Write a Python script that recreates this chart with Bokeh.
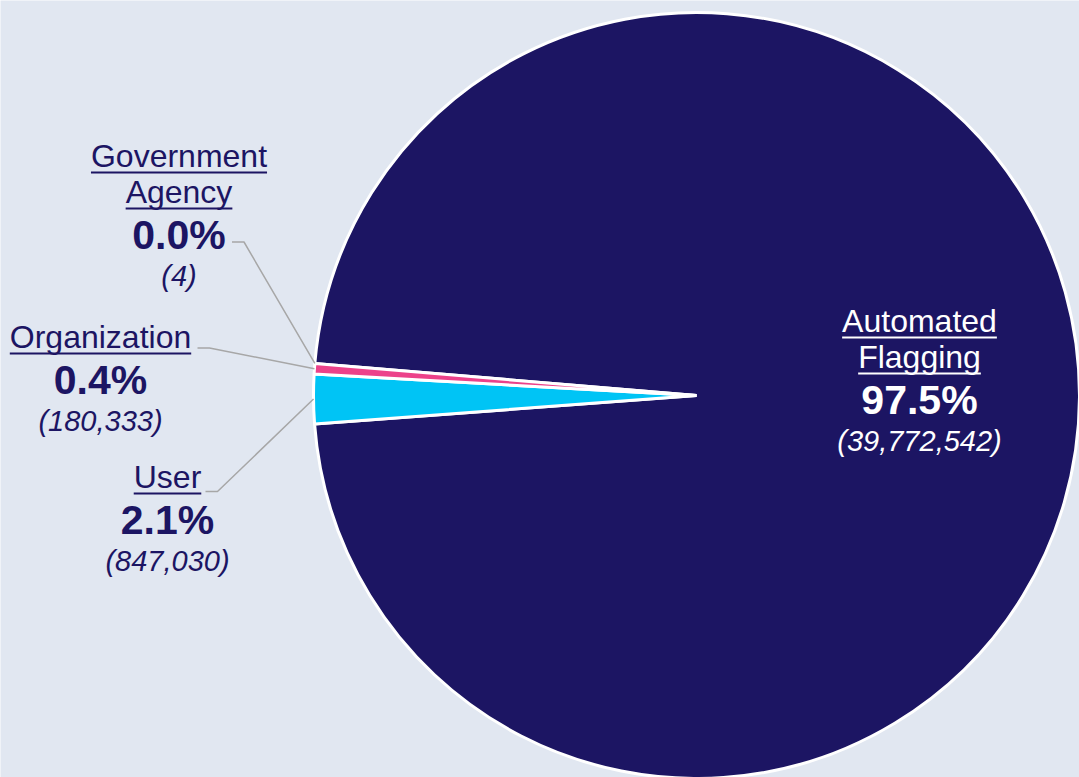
import math
from bokeh.plotting import figure
from bokeh.models import Range1d
from bokeh.core.properties import value
from bokeh.embed import file_html
from bokeh.resources import INLINE

# ---------------- data ----------------
categories = ["Automated Flagging", "User", "Organization", "Government Agency"]
counts = [39772542, 847030, 180333, 4]
colors = ["#1c1563", "#00c4f5", "#ec428a", "#8dd14f"]

# ---------------- layout / style ----------------
W, H = 1079, 777
BG = "#e1e7f1"
NAVY = "#1c1563"
CX, CY = 696, 395          # pie centre (screen px)
R = 383                    # pie radius (px)
START_DEG = 175.2          # slices run clockwise from here
FONT = "Liberation Sans"
BASE_FIX = 0.40            # empirical correction of the svg text baseline (em)

label_lines = {
    "Automated Flagging": ["Automated", "Flagging"],
    "User": ["User"],
    "Organization": ["Organization"],
    "Government Agency": ["Government", "Agency"],
}
label_anchor = {
    "Automated Flagging": (919, 333),
    "User": (167, 489),
    "Organization": (100, 349),
    "Government Agency": (178.5, 168),
}
label_color = {
    "Automated Flagging": "white",
    "User": NAVY,
    "Organization": NAVY,
    "Government Agency": NAVY,
}
connector_start = {
    "User": (205, 491),
    "Organization": (197, 347.5),
    "Government Agency": (231.5, 241.5),
}
NAME_PX, PCT_PX, VAL_PX = 32, 41, 29
LINE_STEP, PCT_STEP, VAL_STEP = 36, 47, 36

ADV = {"G": 778, "o": 556, "v": 500, "e": 556, "r": 333, "n": 556, "m": 833,
       "t": 278, "A": 667, "g": 556, "c": 500, "y": 500, "O": 778, "a": 556,
       "i": 222, "z": 500, "U": 722, "s": 500, "u": 556, "d": 556, "F": 611,
       "l": 222, " ": 278}


def text_w(s, px):
    return sum(ADV.get(ch, 556) for ch in s) * px / 1000.0


def Y(y):  # screen y -> data y
    return H - y


p = figure(width=W, height=H, output_backend="svg", toolbar_location=None,
           x_range=Range1d(0, W), y_range=Range1d(0, H),
           min_border=0, background_fill_color=BG, border_fill_color=BG)
p.axis.visible = False
p.grid.visible = False
p.outline_line_color = None

total = float(sum(counts))
cum = 0.0
a0 = math.radians(START_DEG)
mids = {}
for cat, c, col in zip(categories, counts, colors):
    frac = c / total
    s = a0 - 2 * math.pi * cum
    sweep = 2 * math.pi * frac
    mids[cat] = s - sweep / 2
    if frac > 1e-5:
        p.wedge(x=[CX], y=[Y(CY)], radius=R, start_angle=[s - sweep], end_angle=[s],
                direction="anticlock", fill_color=col, line_color="white",
                line_width=3)
    cum += frac

for cat, (sx, sy) in connector_start.items():
    m = mids[cat]
    ex = CX + R * math.cos(m)
    ey = CY - R * math.sin(m)
    p.line([sx, sx + 12, ex], [Y(sy), Y(sy), Y(ey)],
           line_color="#a7a7a7", line_width=1.5)


def put_text(x, y, s, px, col, style="normal"):
    p.text(x=[x], y=[Y(y - BASE_FIX * px)], text=[s], text_align="center",
           text_baseline="alphabetic", text_font=value(FONT),
           text_font_size=f"{px}px", text_font_style=style, text_color=col)


for cat, c in zip(categories, counts):
    ax, ay = label_anchor[cat]
    col = label_color[cat]
    y = ay
    for i, ln in enumerate(label_lines[cat]):
        if i > 0:
            y += LINE_STEP
        put_text(ax, y, ln, NAME_PX, col)
        w = text_w(ln, NAME_PX)
        p.line([ax - w / 2, ax + w / 2], [Y(y + 4), Y(y + 4)],
               line_color=col, line_width=2)
    y += PCT_STEP
    put_text(ax, y, f"{100.0 * c / total:.1f}%", PCT_PX, col, "bold")
    y += VAL_STEP
    put_text(ax, y, f"({c:,})", VAL_PX, col, "italic")

html = file_html(p, INLINE)
html = html.replace("<body", f'<body style="margin:0;background:{BG};"', 1)
open("out.html", "w").write(html)
